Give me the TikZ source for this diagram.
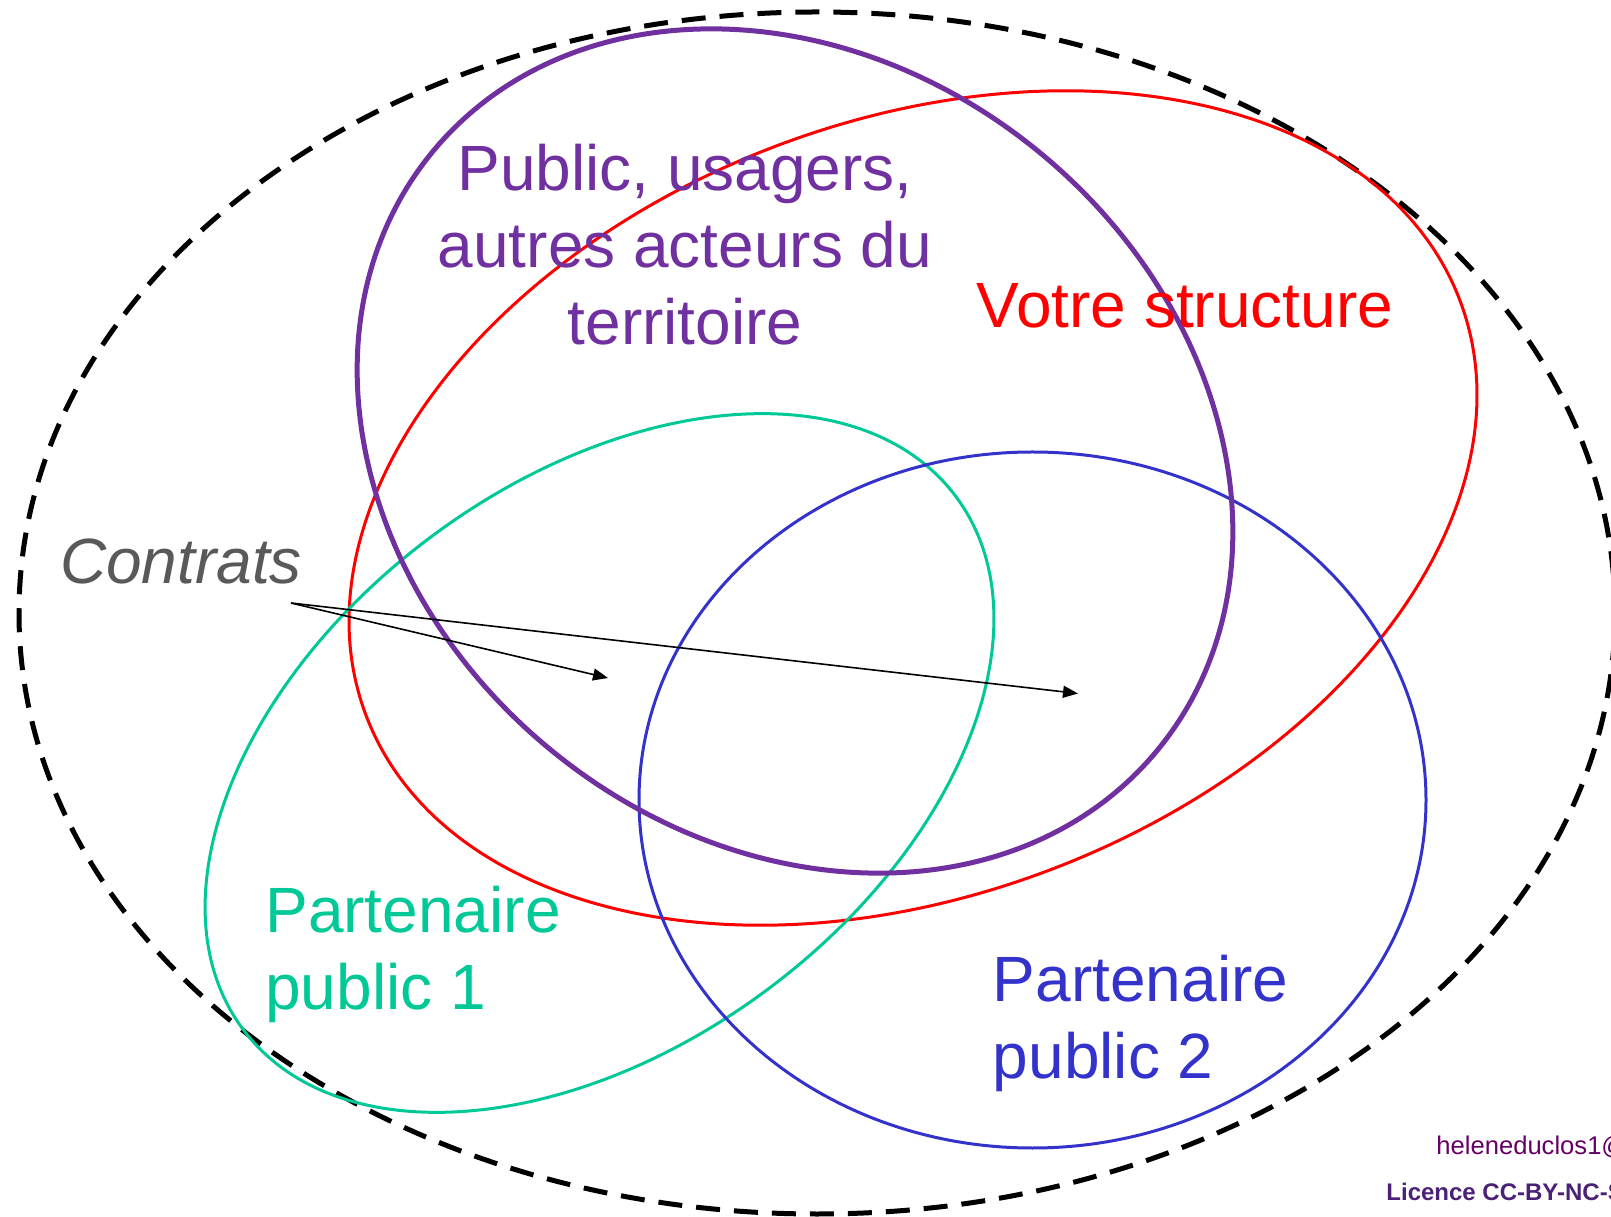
\documentclass[tikz,border=0pt]{standalone}
\usepackage{fontspec}
\setmainfont{Liberation Sans}
\usetikzlibrary{arrows.meta}

\definecolor{violet}{HTML}{7030A0}
\definecolor{rouge}{HTML}{FF0000}
\definecolor{vert}{HTML}{00C896}
\definecolor{bleu}{HTML}{3333CC}
\definecolor{gris}{HTML}{595959}
\definecolor{prune}{HTML}{660066}
\definecolor{licence}{HTML}{4B2177}

\begin{document}
\begin{tikzpicture}[x=0.5pt, y=0.5pt]
   \tikzstyle{every node}=[inner sep=0pt, font=\fontsize{32}{38.5}\selectfont]
   \tikzstyle{ensemble}=[line width=1.5pt]
   \tikzstyle{fleche}=[line width=0.8pt, -{Triangle[length=7.5pt, width=6pt]}]

\useasboundingbox (0,0) rectangle (1611,1216);

% territoire (pointilles)
\draw[line width=2.5pt, dash pattern=on 12pt off 7pt] (817,603) ellipse [x radius=798, y radius=601];

% ensembles
\draw[ensemble, rouge] (913,708) ellipse [x radius=585, y radius=387, rotate=20.8];
\draw[ensemble, vert] (599.5,453) ellipse [x radius=445, y radius=282, rotate=36.8];
\draw[ensemble, bleu] (1032.5,416) ellipse [x radius=393.5, y radius=348];
\draw[line width=2.5pt, violet] (795,765) ellipse [x radius=470, y radius=386, rotate=-39.6];

% textes
\node[text=violet, align=center] (public) at (685,971) {Public, usagers,\\autres acteurs du\\territoire};
\node[text=rouge] (structure) at (1185,910) {Votre structure};
\node[text=vert, align=left, anchor=west] (partenaire1) at (265,262) {Partenaire\\public 1};
\node[text=bleu, align=left, anchor=west] (partenaire2) at (992.5,193) {Partenaire\\public 2};
\node[text=gris, anchor=west, font=\fontsize{32}{38.5}\selectfont\itshape] (contrats) at (59.6,655) {Contrats};

% fleches
\coordinate (depart) at (291,613);
\coordinate (cible1) at (608,538);
\coordinate (cible2) at (1078,522.5);
\draw[fleche] (depart) -- (cible1);
\draw[fleche] (depart) -- (cible2);

% pied de page
\node[text=prune, anchor=west, font=\fontsize{12.8}{15}\selectfont] (auteur) at (1436,69) {heleneduclos1@};
\node[text=licence, anchor=west, font=\fontsize{12}{14}\selectfont\bfseries] (droits) at (1386,24) {Licence CC-BY-NC-SA};

\end{tikzpicture}
\end{document}
